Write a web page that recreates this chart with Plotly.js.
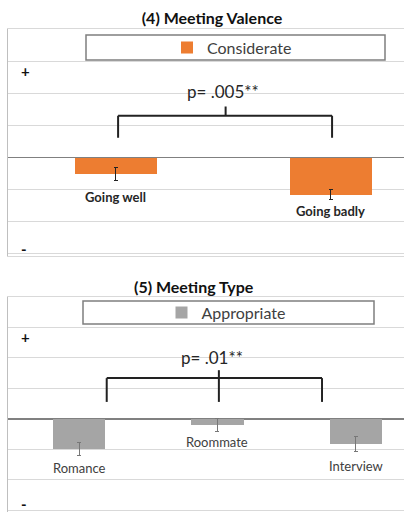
<!DOCTYPE html>
<html>
<head>
<meta charset="utf-8">
<script src="https://cdn.plot.ly/plotly-3.0.1.min.js"></script>
<style>html,body{margin:0;padding:0;background:#fff;}#chart{width:404px;height:512px;}</style>
</head>
<body>
<div id="chart"></div>
<script>
// ---- data ----
const valenceCategories = ['Going well', 'Going badly'];
const valenceValues = [-0.52, -1.16];
const valenceErrors = [0.2, 0.16];
const valenceSeries = 'Considerate';
const valenceP = 'p= .005**';

const typeCategories = ['Romance', 'Roommate', 'Interview'];
const typeValues = [-0.98, -0.2, -0.82];
const typeErrors = [0.21, 0.2, 0.23];
const typeSeries = 'Appropriate';
const typeP = 'p= .01**';

const titles = ['(4) Meeting Valence', '(5) Meeting Type'];

// ---- styling ----
const FONT = 'Lato, "Open Sans", sans-serif';
const ORANGE = '#ED7D31';
const GRAY = '#A5A5A5';
const GRID = '#D9D9D9';

const traces = [
  {
    type: 'bar', x: valenceCategories, y: valenceValues, name: valenceSeries,
    xaxis: 'x', yaxis: 'y', width: 0.381, marker: {color: ORANGE},
    error_y: {type: 'data', array: valenceErrors, visible: true, color: '#222', thickness: 1, width: 2},
    legend: 'legend', hoverinfo: 'x+y'
  },
  {
    type: 'bar', x: typeCategories, y: typeValues, name: typeSeries,
    xaxis: 'x2', yaxis: 'y2', width: 0.379, marker: {color: GRAY},
    error_y: {type: 'data', array: typeErrors, visible: true, color: '#777', thickness: 1, width: 2},
    legend: 'legend2', hoverinfo: 'x+y'
  }
];

function yax(domain) {
  return {
    domain: domain, range: [-3.05, 4], dtick: 1, tick0: 0,
    showgrid: true, gridcolor: GRID, gridwidth: 1,
    zeroline: true, zerolinecolor: '#808080', zerolinewidth: 1.5,
    showticklabels: false, ticks: '',
    showline: true, linecolor: '#BFBFBF', linewidth: 1, fixedrange: true
  };
}
function xax(range, anchor) {
  return {
    domain: [8/404, 1], range: range, type: 'category', anchor: anchor,
    showticklabels: false, ticks: '', showgrid: false, zeroline: false,
    showline: true, mirror: true, linecolor: GRID, linewidth: 1, fixedrange: true
  };
}

const labelShiftTop = [-23, -16];
const labelShiftBottom = [-19, -17, -22];
const annotations = [];
valenceCategories.forEach((c, i) => annotations.push({
  xref: 'x', yref: 'y', x: c, y: valenceValues[i], yshift: labelShiftTop[i],
  text: '<b>' + c + '</b>', showarrow: false, yanchor: 'middle',
  font: {family: FONT, size: 13, color: '#262626'}
}));
typeCategories.forEach((c, i) => annotations.push({
  xref: 'x2', yref: 'y2', x: c, y: typeValues[i], yshift: labelShiftBottom[i],
  text: c, showarrow: false, yanchor: 'middle',
  font: {family: FONT, size: 13, color: '#404040'}
}));
// p-values
annotations.push({xref: 'x', yref: 'y', x: 0.5, y: 2.06, text: valenceP, showarrow: false,
  font: {family: FONT, size: 17, color: '#262626'}});
annotations.push({xref: 'x2', yref: 'y2', x: 0.96, y: 2.03, text: typeP, showarrow: false,
  font: {family: FONT, size: 17, color: '#262626'}});
// +/- markers
[['y', 2.69, '+'], ['y', -2.85, '-'], ['y2', 2.69, '+'], ['y2', -2.78, '-']].forEach(m => annotations.push({
  xref: 'paper', yref: m[0], x: 19/404, y: m[1], text: '<b>' + m[2] + '</b>', showarrow: false,
  yanchor: 'middle', font: {family: FONT, size: 15, color: '#111'}
}));
// second title
annotations.push({xref: 'paper', yref: 'paper', x: 194/404, y: (512-286)/512, yanchor: 'middle',
  text: '<b>' + titles[1] + '</b>', showarrow: false, font: {family: FONT, size: 16, color: '#111'}});

const L = {color: '#222', width: 2};
const shapes = [
  // legend boxes
  {type: 'rect', xref: 'paper', yref: 'paper', x0: 86/404, x1: 385/404, y0: (512-60)/512, y1: (512-35)/512,
    line: {color: '#7F7F7F', width: 1.5}, fillcolor: '#fff', layer: 'above'},
  {type: 'rect', xref: 'paper', yref: 'paper', x0: 83/404, x1: 374/404, y0: (512-324)/512, y1: (512-301)/512,
    line: {color: '#7F7F7F', width: 1.5}, fillcolor: '#fff', layer: 'above'},
  // top bracket
  {type: 'line', xref: 'x', yref: 'y', x0: 0.01, x1: 1.005, y0: 1.3, y1: 1.3, line: L},
  {type: 'line', xref: 'x', yref: 'y', x0: 0.01, x1: 0.01, y0: 1.3, y1: 0.62, line: L},
  {type: 'line', xref: 'x', yref: 'y', x0: 1.005, x1: 1.005, y0: 1.3, y1: 0.62, line: L},
  {type: 'line', xref: 'x', yref: 'y', x0: 0.51, x1: 0.51, y0: 1.3, y1: 1.59, line: L},
  // bottom bracket
  {type: 'line', xref: 'x2', yref: 'y2', x0: 0.2, x1: 1.755, y0: 1.34, y1: 1.34, line: L},
  {type: 'line', xref: 'x2', yref: 'y2', x0: 0.2, x1: 0.2, y0: 1.34, y1: 0.56, line: L},
  {type: 'line', xref: 'x2', yref: 'y2', x0: 1.755, x1: 1.755, y0: 1.34, y1: 0.56, line: L},
  {type: 'line', xref: 'x2', yref: 'y2', x0: 1.01, x1: 1.01, y0: 1.6, y1: 0.56, line: L}
];

const layout = {
  width: 404, height: 512,
  margin: {l: 0, r: 0, t: 0, b: 0, pad: 0},
  paper_bgcolor: '#fff', plot_bgcolor: '#fff',
  title: {text: '<b>' + titles[0] + '</b>', x: 212/404, xref: 'paper', xanchor: 'center',
    y: (512-18)/512, yref: 'paper', yanchor: 'middle', font: {family: FONT, size: 16, color: '#111'}},
  xaxis: xax([-0.502, 1.3395], 'y'),
  yaxis: yax([(512-255.6)/512, (512-29)/512]),
  xaxis2: xax([-0.513, 2.347], 'y2'),
  yaxis2: yax([0, (512-297)/512]),
  showlegend: true,
  legend: {x: 232/404, y: (512-47.5)/512, xanchor: 'center', yanchor: 'middle', orientation: 'h',
    bgcolor: 'rgba(0,0,0,0)', borderwidth: 0, itemwidth: 30,
    font: {family: FONT, size: 16, color: '#404040'}},
  legend2: {x: 226/404, y: (512-312.5)/512, xanchor: 'center', yanchor: 'middle', orientation: 'h',
    bgcolor: 'rgba(0,0,0,0)', borderwidth: 0, itemwidth: 30,
    font: {family: FONT, size: 16, color: '#404040'}},
  bargap: 0,
  annotations: annotations,
  shapes: shapes
};

Plotly.newPlot('chart', traces, layout, {displayModeBar: false, staticPlot: true});
</script>
</body>
</html>
